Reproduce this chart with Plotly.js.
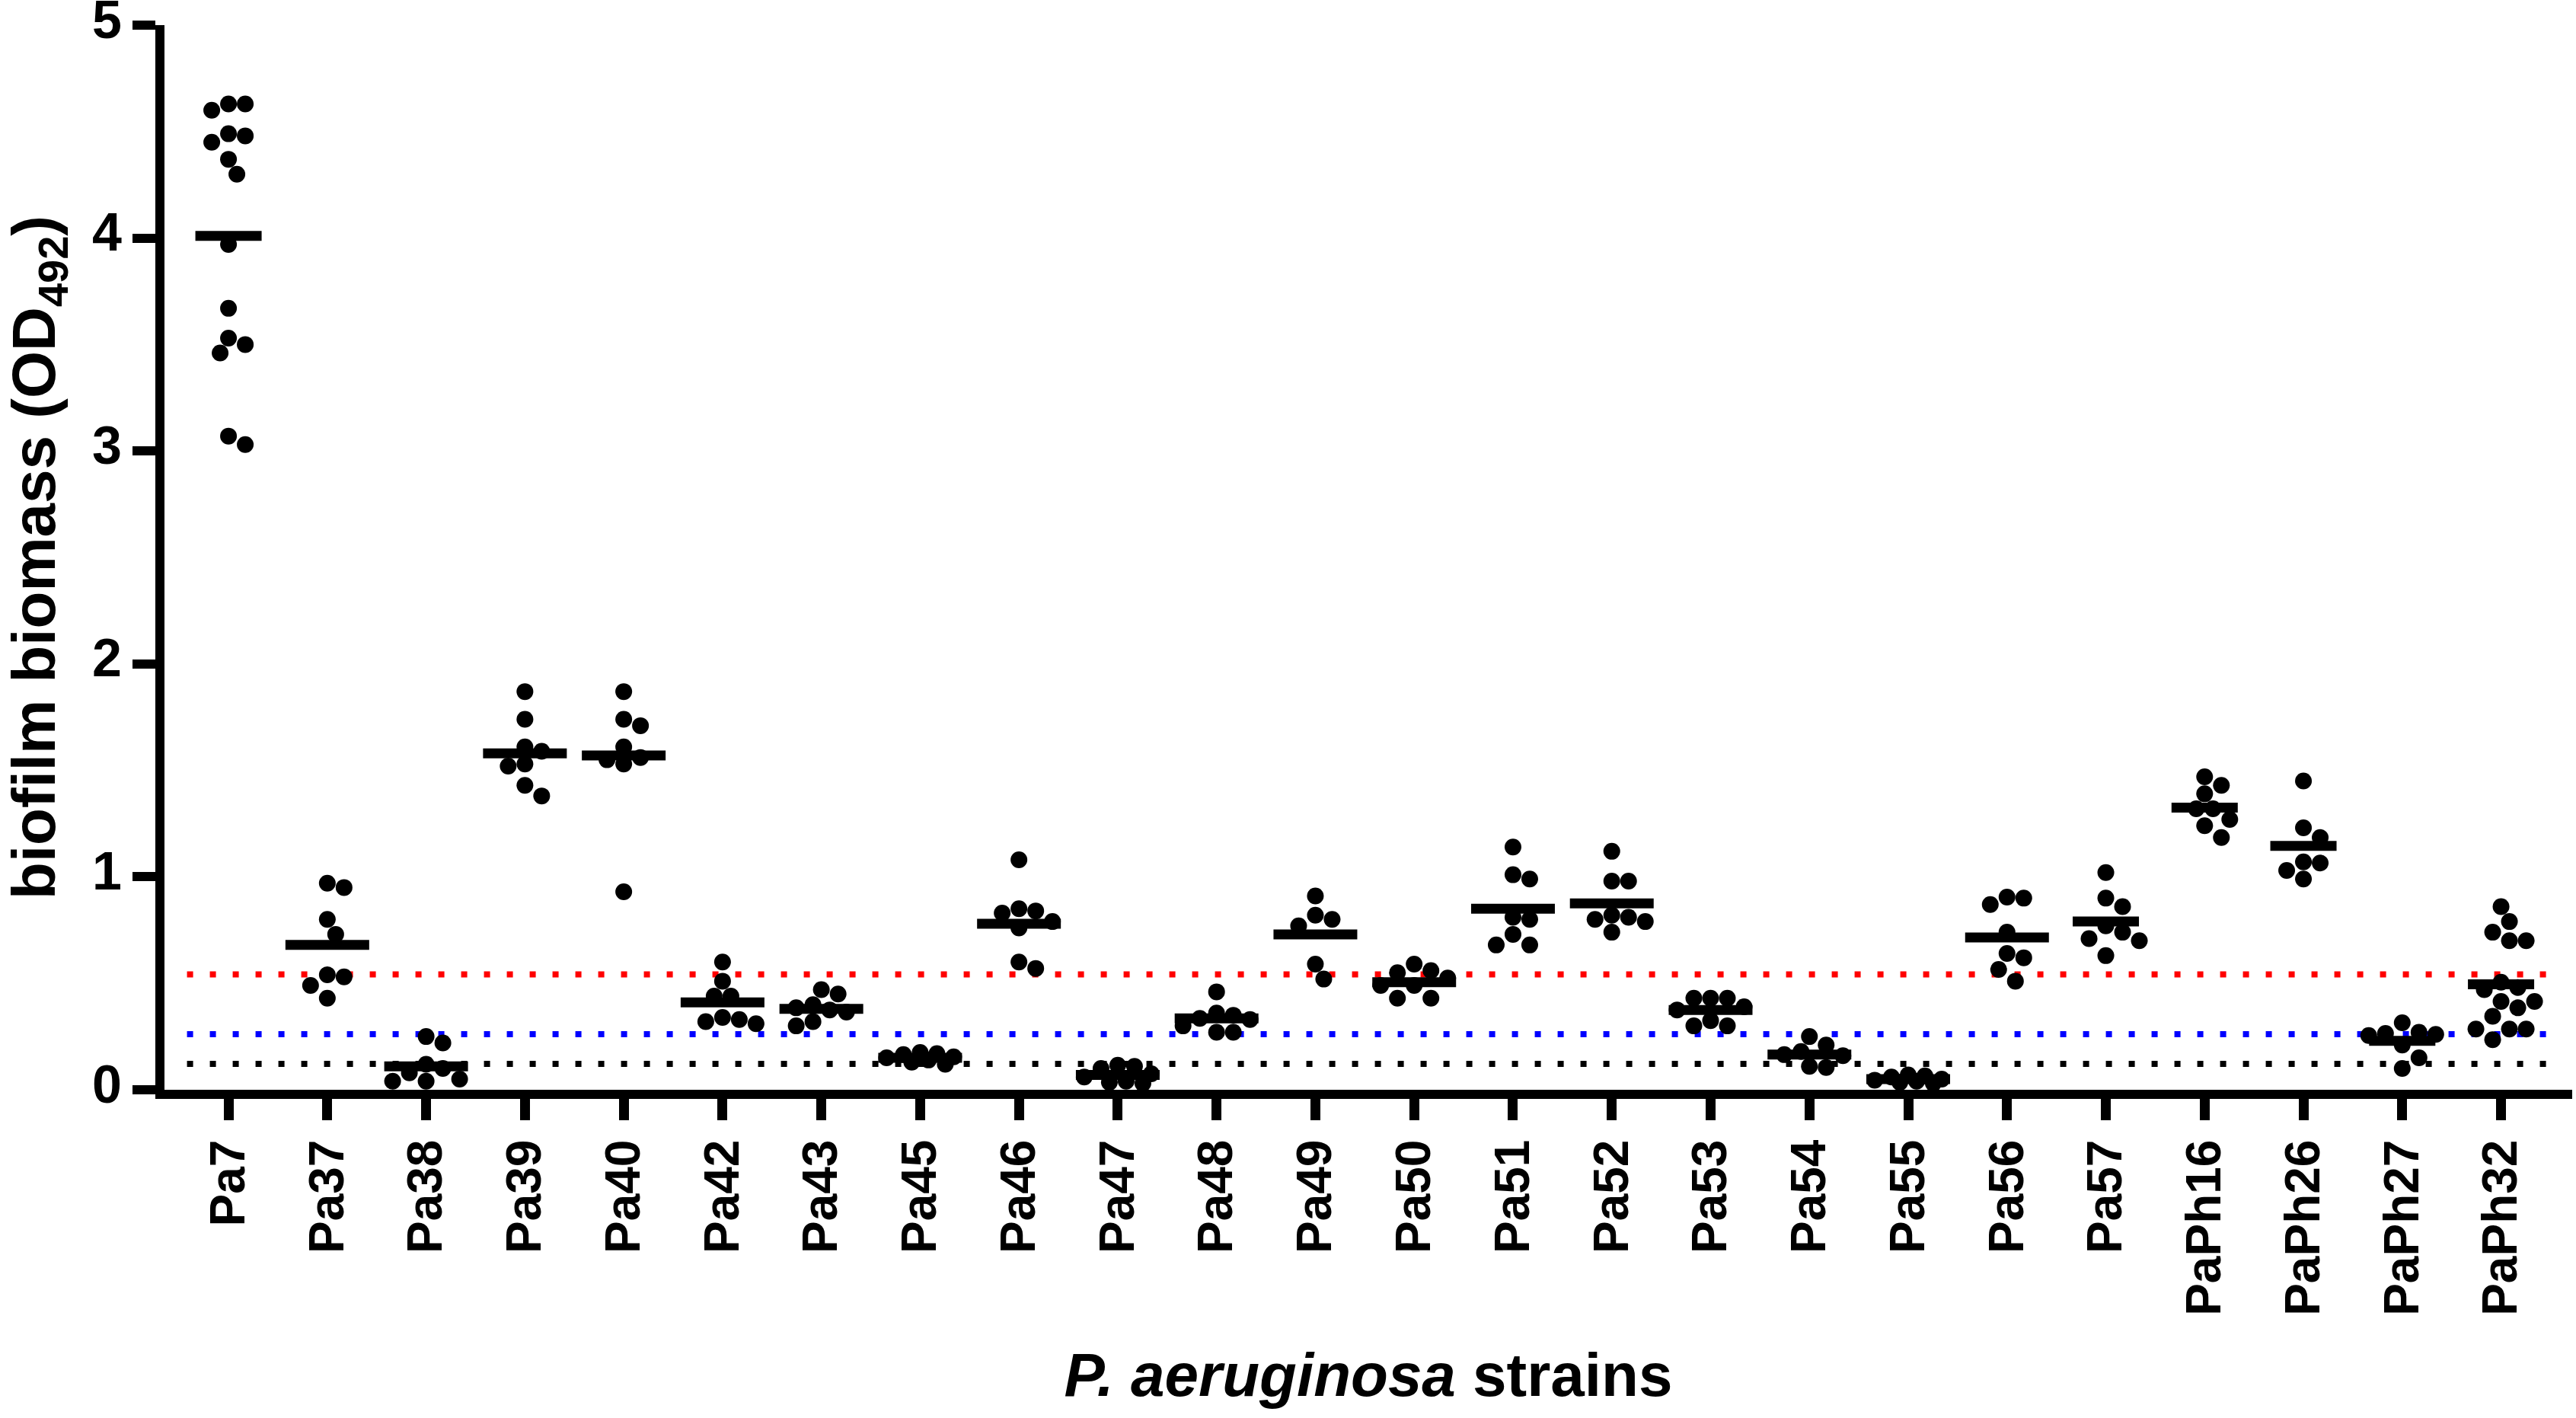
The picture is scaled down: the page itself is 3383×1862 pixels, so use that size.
<!DOCTYPE html>
<html>
<head>
<meta charset="utf-8">
<script src="https://cdn.plot.ly/plotly-3.0.1.min.js"></script>
<style>html,body{margin:0;padding:0;background:#fff;}#chart{width:3383px;height:1862px;}</style>
</head>
<body>
<div id="chart"></div>
<script>
// ---- data ----
const categories = ['Pa7','Pa37','Pa38','Pa39','Pa40','Pa42','Pa43','Pa45','Pa46','Pa47','Pa48','Pa49','Pa50','Pa51','Pa52','Pa53','Pa54','Pa55','Pa56','Pa57','PaPh16','PaPh26','PaPh27','PaPh32'];

const pa7    = [4.63,4.63,4.60,4.49,4.48,4.45,4.37,4.30,3.97,3.67,3.53,3.50,3.46,3.07,3.03];
const pa37   = [0.97,0.95,0.80,0.73,0.54,0.53,0.49,0.43];
const pa38   = [0.25,0.22,0.12,0.10,0.08,0.05,0.04,0.04];
const pa39   = [1.87,1.74,1.61,1.59,1.53,1.52,1.43,1.38];
const pa40   = [1.87,1.74,1.71,1.61,1.56,1.55,1.53,0.93];
const pa42   = [0.60,0.51,0.44,0.44,0.34,0.33,0.32,0.31];
const pa43   = [0.47,0.45,0.40,0.385,0.375,0.365,0.32,0.30];
const pa45   = [0.175,0.17,0.165,0.155,0.15,0.14,0.13,0.12];
const pa46   = [1.08,0.85,0.84,0.83,0.79,0.76,0.60,0.57];
const pa47   = [0.115,0.11,0.10,0.075,0.06,0.04,0.035,0.03];
const pa48   = [0.46,0.36,0.35,0.335,0.33,0.30,0.27,0.27];
const pa49   = [0.91,0.82,0.80,0.77,0.59,0.52];
const pa50   = [0.59,0.56,0.55,0.525,0.49,0.49,0.43,0.43];
const pa51   = [1.14,1.01,0.99,0.81,0.80,0.73,0.68,0.68];
const pa52   = [1.12,0.98,0.98,0.82,0.81,0.80,0.79,0.74];
const pa53   = [0.43,0.43,0.43,0.39,0.375,0.325,0.30,0.30];
const pa54   = [0.25,0.21,0.18,0.165,0.16,0.11,0.105];
const pa55   = [0.07,0.065,0.06,0.05,0.045,0.04,0.035,0.03];
const pa56   = [0.905,0.90,0.87,0.74,0.64,0.62,0.565,0.51];
const pa57   = [1.02,0.90,0.86,0.77,0.74,0.71,0.70,0.63];
const paph16 = [1.47,1.43,1.39,1.32,1.32,1.27,1.24,1.185];
const paph26 = [1.45,1.23,1.185,1.07,1.065,1.03,0.99];
const paph27 = [0.315,0.27,0.265,0.26,0.255,0.21,0.15,0.10];
const paph32 = [0.86,0.79,0.74,0.70,0.70,0.505,0.48,0.47,0.415,0.415,0.385,0.345,0.285,0.285,0.285,0.235];

const meanValues = [4.01,0.68,0.11,1.58,1.57,0.41,0.38,0.15,0.78,0.07,0.335,0.73,0.505,0.85,0.875,0.375,0.165,0.05,0.715,0.79,1.325,1.145,0.23,0.495];

const thresholdValues = [0.542, 0.261, 0.122];
const thresholdColors = ['#ff0000', '#0000ff', '#000000'];

const yTickValues = [0,1,2,3,4,5];

// ---- layout geometry ----
const W = 3383, H = 1862;
const margin = {l:216, r:5, t:33, b:431};
const xRange = [-0.648, 23.72];
const yRange = [0, 5];
const plotW = W - margin.l - margin.r;
const plotH = H - margin.t - margin.b;
const pxPerCat = plotW / (xRange[1] - xRange[0]);
const pxPerUnit = plotH / (yRange[1] - yRange[0]);

const groups = [pa7,pa37,pa38,pa39,pa40,pa42,pa43,pa45,pa46,pa47,pa48,pa49,pa50,pa51,pa52,pa53,pa54,pa55,pa56,pa57,paph16,paph26,paph27,paph32];

// simple beeswarm placement (pixel space) so dots spread like a scatter dot plot
const DOT = 22;
const MAXOFF = 46;
const xs = [], ys = [];
groups.forEach((vals, i) => {
  const sorted = vals.slice().sort((a,b) => b - a);
  const placed = [];
  sorted.forEach(v => {
    const py = v * pxPerUnit;
    const cands = [];
    for (let o = 0; o <= MAXOFF; o += DOT/2) { cands.push(o); if (o > 0) cands.push(-o); }
    let best = null, bestScore = -Infinity;
    for (const o of cands) {
      let md = Infinity;
      for (const p of placed) {
        const d = Math.hypot(p[0] - o, p[1] - py);
        if (d < md) md = d;
      }
      if (md >= DOT * 0.98) { best = o; break; }
      if (md > bestScore) { bestScore = md; best = o; }
    }
    placed.push([best, py]);
    xs.push(i + best / pxPerCat);
    ys.push(v);
  });
});

// mean bars: horizontal segments centred on each category
const narrowMean = ['Pa7','Pa57','PaPh16','PaPh26','PaPh27','PaPh32'];
const meanX = [], meanY = [];
categories.forEach((c, i) => {
  const half = (narrowMean.includes(c) ? 87 : 110) / 2 / pxPerCat;
  meanX.push(i - half, i + half, null);
  meanY.push(meanValues[i], meanValues[i], null);
});

const FONT = 'Liberation Sans, Arial, Helvetica, sans-serif';

const traces = [
  {
    type: 'scatter', mode: 'markers', x: xs, y: ys, cliponaxis: false,
    marker: {size: DOT, color: '#000000', line: {width: 0}}, hoverinfo: 'y', showlegend: false
  },
  {
    type: 'scatter', mode: 'lines', x: meanX, y: meanY, cliponaxis: false, connectgaps: false,
    line: {color: '#000000', width: 13}, hoverinfo: 'y', showlegend: false
  }
];

const shapes = thresholdValues.map((t, k) => ({
  type: 'line', xref: 'x', yref: 'y', x0: -0.42, x1: 23.52, y0: t, y1: t, layer: 'below',
  line: {color: thresholdColors[k], width: 8, dash: '8px,22px'}
}));

const layout = {
  width: W, height: H, margin: margin,
  paper_bgcolor: '#fff', plot_bgcolor: '#fff',
  font: {family: FONT, color: '#000'},
  showlegend: false,
  shapes: shapes,
  xaxis: {
    range: xRange, showgrid: false, zeroline: false,
    showline: true, linecolor: '#000', linewidth: 12,
    ticks: 'outside', ticklen: 28, tickwidth: 13, tickcolor: '#000',
    tickvals: categories.map((c,i) => i), ticktext: categories,
    tickangle: -90, tickfont: {family: FONT, size: 64, weight: 'bold', color: '#000'},
    automargin: false,
    title: {text: '<i>P. aeruginosa</i> strains', font: {family: FONT, size: 80, weight: 'bold', color: '#000'}, standoff: 55}
  },
  yaxis: {
    range: yRange, showgrid: false, zeroline: false,
    showline: true, linecolor: '#000', linewidth: 12,
    ticks: 'outside', ticklen: 30, tickwidth: 12, tickcolor: '#000',
    tickvals: yTickValues, ticktext: yTickValues.map(String),
    ticklabeloverflow: 'allow', ticklabelshift: -8,
    tickfont: {family: FONT, size: 70, weight: 'bold', color: '#000'},
    automargin: false,
    title: {text: 'biofilm biomass (OD<sub>492</sub>)', font: {family: FONT, size: 80, weight: 'bold', color: '#000'}, standoff: 32}
  }
};

Plotly.newPlot('chart', traces, layout, {staticPlot: true, displayModeBar: false});
</script>
</body>
</html>
